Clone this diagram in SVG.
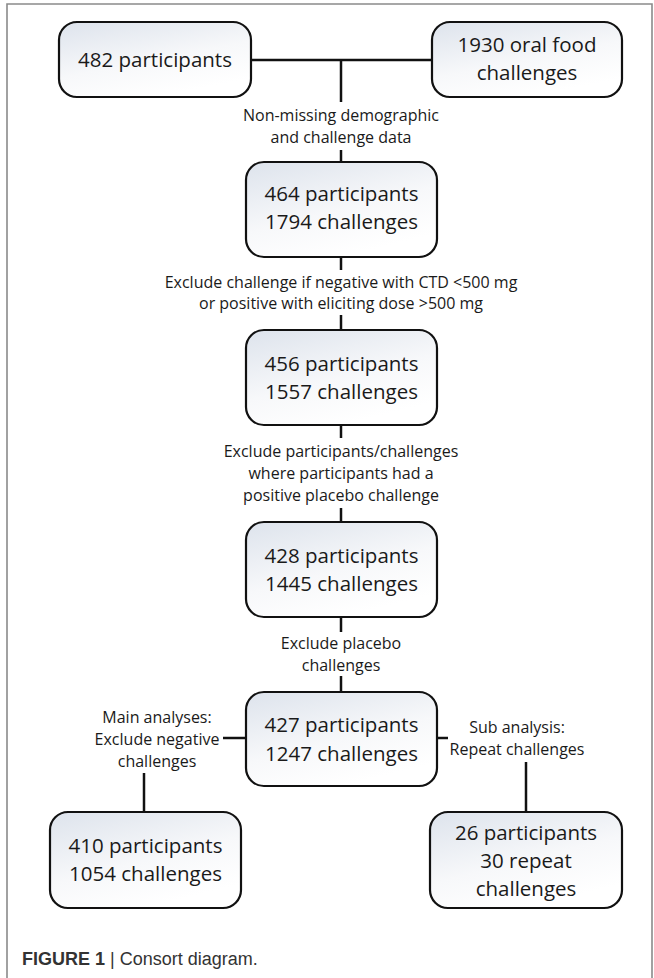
<svg xmlns="http://www.w3.org/2000/svg" width="654" height="978" viewBox="0 0 654 978">
<defs>
<linearGradient id="bg" x1="0" y1="0" x2="0.5" y2="1">
<stop offset="0" stop-color="#dde3ec"/>
<stop offset="0.6" stop-color="#f7f8fa"/>
<stop offset="1" stop-color="#ffffff"/>
</linearGradient>
<style>
.box{fill:url(#bg);stroke:#111;stroke-width:2.2}
.bt{font-family:"Open Sans","Liberation Sans",sans-serif;font-size:20.5px;fill:#1a1a1a;text-anchor:middle}
.lt{font-family:"Open Sans","Liberation Sans",sans-serif;font-size:16px;fill:#1a1a1a;text-anchor:middle}
.ln{stroke:#111;stroke-width:2.5;fill:none}
.cap{font-family:"Liberation Sans",Arial,sans-serif;font-size:18px;fill:#333}
</style>
</defs>
<rect x="0" y="0" width="654" height="978" fill="#fff"/>
<path d="M7,978 V4 H652 V978" fill="none" stroke="#8a8a8a" stroke-width="1.6"/>

<g id="connectors">
<path class="ln" d="M251,60 H432"/>
<path class="ln" d="M341,60 V102"/>
<path class="ln" d="M341,150 V162"/>
<path class="ln" d="M341,257 V270"/>
<path class="ln" d="M341,315 V330"/>
<path class="ln" d="M341,425 V438"/>
<path class="ln" d="M341,508 V522"/>
<path class="ln" d="M341,617 V632"/>
<path class="ln" d="M341,676 V692"/>
<path class="ln" d="M223,738 H246"/>
<path class="ln" d="M437,738 H448"/>
<path class="ln" d="M144,773 V812"/>
<path class="ln" d="M526,762 V812"/>
</g>

<g id="n482">
<rect class="box" x="59" y="22" width="192" height="75" rx="18"/>
<text class="bt" x="155" y="67">482 participants</text>
</g>
<g id="n1930">
<rect class="box" x="432" y="22" width="190" height="75" rx="18"/>
<text class="bt" x="527" y="52">1930 oral food</text>
<text class="bt" x="527" y="80">challenges</text>
</g>
<g id="l1">
<text class="lt" x="341" y="120.5">Non-missing demographic</text>
<text class="lt" x="341" y="142.5">and challenge data</text>
</g>
<g id="n464">
<rect class="box" x="246" y="162" width="191" height="95" rx="18"/>
<text class="bt" x="341.5" y="200.5">464 participants</text>
<text class="bt" x="341.5" y="229">1794 challenges</text>
</g>
<g id="l2">
<text class="lt" x="341" y="287.5">Exclude challenge if negative with CTD &lt;500 mg</text>
<text class="lt" x="341" y="309">or positive with eliciting dose &gt;500 mg</text>
</g>
<g id="n456">
<rect class="box" x="246" y="330" width="191" height="95" rx="18"/>
<text class="bt" x="341.5" y="370.5">456 participants</text>
<text class="bt" x="341.5" y="399">1557 challenges</text>
</g>
<g id="l3">
<text class="lt" x="341" y="457">Exclude participants/challenges</text>
<text class="lt" x="341" y="479">where participants had a</text>
<text class="lt" x="341" y="501">positive placebo challenge</text>
</g>
<g id="n428">
<rect class="box" x="246" y="522" width="191" height="95" rx="18"/>
<text class="bt" x="341.5" y="562.5">428 participants</text>
<text class="bt" x="341.5" y="591">1445 challenges</text>
</g>
<g id="l4">
<text class="lt" x="341" y="649">Exclude placebo</text>
<text class="lt" x="341" y="670.5">challenges</text>
</g>
<g id="n427">
<rect class="box" x="246" y="692" width="191" height="94" rx="18"/>
<text class="bt" x="341.5" y="731.5">427 participants</text>
<text class="bt" x="341.5" y="760.5">1247 challenges</text>
</g>
<g id="l5">
<text class="lt" x="157" y="723">Main analyses:</text>
<text class="lt" x="157" y="745">Exclude negative</text>
<text class="lt" x="157" y="767">challenges</text>
</g>
<g id="l6">
<text class="lt" x="517" y="733">Sub analysis:</text>
<text class="lt" x="517" y="754.5">Repeat challenges</text>
</g>
<g id="n410">
<rect class="box" x="50" y="812" width="191" height="96" rx="18"/>
<text class="bt" x="145.5" y="852.5">410 participants</text>
<text class="bt" x="145.5" y="881">1054 challenges</text>
</g>
<g id="n26">
<rect class="box" x="430" y="812" width="192" height="96" rx="18"/>
<text class="bt" x="526" y="840">26 participants</text>
<text class="bt" x="526" y="868">30 repeat</text>
<text class="bt" x="526" y="896">challenges</text>
</g>
<text class="cap" x="22" y="965"><tspan font-weight="bold">FIGURE 1</tspan> | Consort diagram.</text>
</svg>
